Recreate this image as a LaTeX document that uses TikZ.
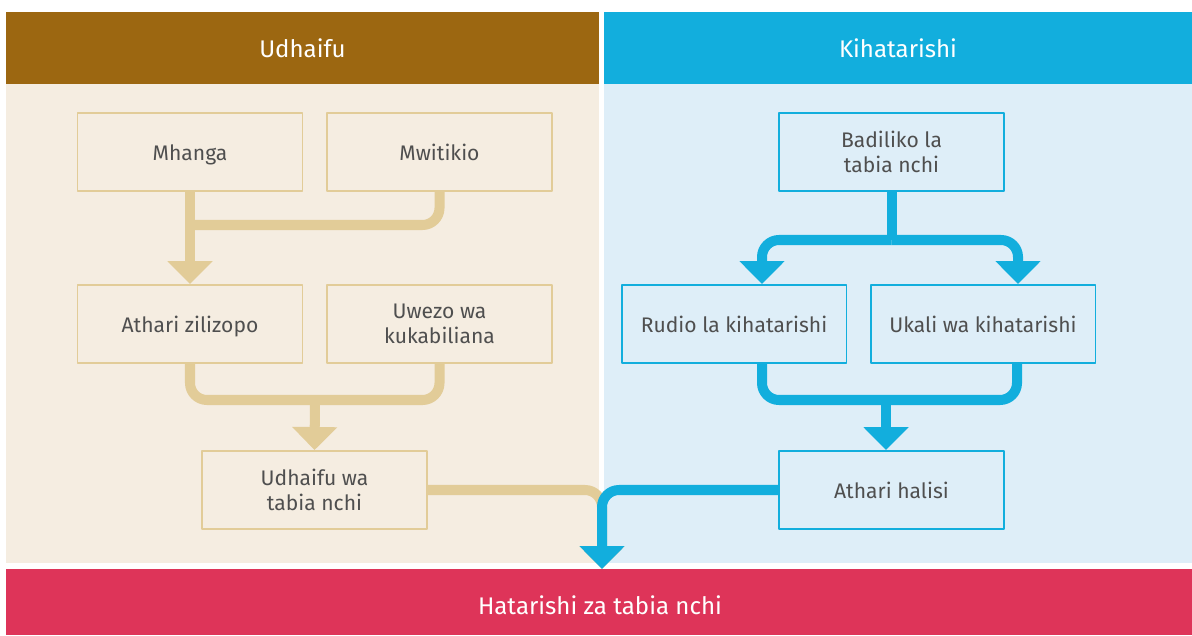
\documentclass[tikz,border=0pt]{standalone}
\usepackage{fontspec}
\setmainfont{Fira Sans}
\usetikzlibrary{arrows.meta}
\definecolor{brun}{HTML}{9C6711}
\definecolor{bleu}{HTML}{12AEDD}
\definecolor{sable}{HTML}{F5EDE1}
\definecolor{ciel}{HTML}{DEEEF8}
\definecolor{ocre}{HTML}{E2CC98}
\definecolor{rouge}{HTML}{DE3459}
\definecolor{texte}{HTML}{4F4F4F}
\begin{document}
\begin{tikzpicture}[x=0.02cm, y=-0.02cm, font=\fontsize{12}{14}\selectfont, line join=round,
	boite/.style={draw, line width=1.1pt, minimum width=4.5cm, minimum height=1.56cm, align=center, text=texte},
	uneligne/.style={text height=2ex, text depth=0.2ex},
	gauche/.style={boite, draw=ocre, fill=sable},
	droite/.style={boite, draw=bleu, fill=ciel},
	titre/.style={text=white, font=\fontsize{13.7}{16}\selectfont},
	tube/.style={line width=5.7pt, rounded corners=0.34cm},
	fleche/.style={tube, -{Triangle[width=0.88cm, length=0.46cm]}}]
	\useasboundingbox (0,0) rectangle (1192,635);
	% panneaux
	\fill[sable] (6,84) rectangle (599,563);
	\fill[ciel] (604,84) rectangle (1192,563);
	\fill[brun] (6,12) rectangle (599,84);
	\fill[bleu] (604,12) rectangle (1192,84);
	\node[titre] (vul) at (302.5,48) {Udhaifu};
	\node[titre] (haz) at (898,48) {Kihatarishi};
	\fill[rouge] (6,569) rectangle (1192,635);
	\node[titre] (risk) at (600,605) {Hatarishi za tabia nchi};
	% boites
	\node[gauche, uneligne] (mh) at (190,152) {Mhanga};
	\node[gauche, uneligne] (mw) at (439.5,152) {Mwitikio};
	\node[gauche, uneligne] (ath) at (190,324) {Athari zilizopo};
	\node[gauche] (uw) at (439.5,324) {Uwezo wa\\kukabiliana};
	\node[gauche] (udh) at (314.5,490) {Udhaifu wa\\tabia nchi};
	\node[droite] (bad) at (891.5,152) {Badiliko la\\tabia nchi};
	\node[droite, uneligne] (rud) at (734,324) {Rudio la kihatarishi};
	\node[droite, uneligne] (uk) at (983,324) {Ukali wa kihatarishi};
	\node[droite, uneligne] (ah) at (891.5,490) {Athari halisi};
	% connecteurs
	\coordinate (j1) at (190,225);
	\coordinate (j2) at (315,400);
	\coordinate (j3) at (891.5,240);
	\coordinate (j4) at (886,400);
	\coordinate (rudN) at (762,284); \coordinate (rudS) at (762,363);
	\coordinate (ukN) at (1018,284); \coordinate (ukS) at (1017,363);
	\coordinate (fin) at (602,569);
	\draw[ocre, fleche] (mh.south) -- (ath.north);
	\draw[ocre, tube] (mw.south) |- (j1);
	\draw[ocre, tube] (ath.south) |- (j2) -| (uw.south);
	\draw[ocre, fleche] (j2) -- (udh.north);
	\draw[ocre, fleche] (udh.east) -| (fin);
	\draw[bleu, tube] (bad.south) -- (j3);
	\draw[bleu, fleche] (j3) -| (rudN);
	\draw[bleu, fleche] (j3) -| (ukN);
	\draw[bleu, tube] (rudS) |- (j4) -| (ukS);
	\draw[bleu, fleche] (j4) -- (j4 |- ah.north);
	\draw[bleu, fleche] (ah.west) -| (fin);
\end{tikzpicture}
\end{document}
